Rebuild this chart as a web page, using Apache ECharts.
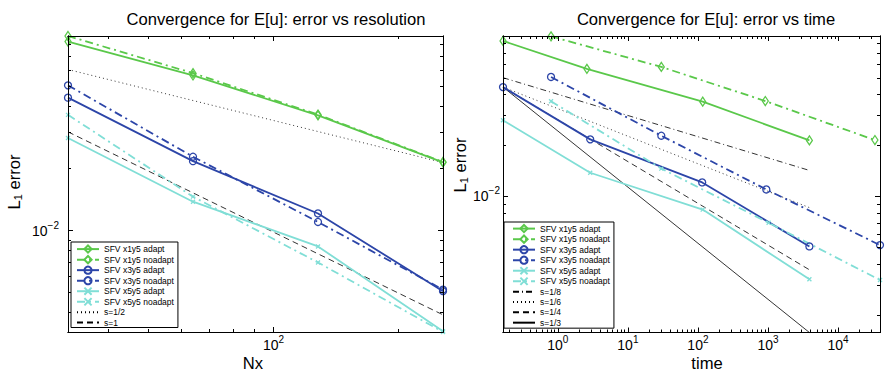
<!DOCTYPE html>
<html><head><meta charset="utf-8">
<script src="https://cdn.jsdelivr.net/npm/echarts@6/dist/echarts.min.js"></script>
<style>html,body{margin:0;padding:0;background:#fff}#c{width:886px;height:373px}</style>
</head><body><div id="c"></div>
<script>
// ---------- data ----------
const nx = [32, 64, 128, 256];
const seriesNames = ['SFV x1y5 adapt', 'SFV x1y5 noadapt', 'SFV x3y5 adapt', 'SFV x3y5 noadapt', 'SFV x5y5 adapt', 'SFV x5y5 noadapt'];

const errX1Adapt   = [0.0825, 0.0565, 0.0362, 0.0214];
const errX1Noadapt = [0.0878, 0.0580, 0.0365, 0.0215];
const errX3Adapt   = [0.0441, 0.0217, 0.0121, 0.00508];
const errX3Noadapt = [0.0506, 0.0228, 0.0110, 0.00517];
const errX5Adapt   = [0.0281, 0.0138, 0.00837, 0.00325];
const errX5Noadapt = [0.0364, 0.0146, 0.0070, 0.00322];

const timeX1Adapt   = [0.165, 2.6, 117, 3900];
const timeX1Noadapt = [0.80, 30, 915, 33600];
const timeX3Adapt   = [0.165, 2.9, 115, 3900];
const timeX3Noadapt = [0.80, 30, 946, 39700];
const timeX5Adapt   = [0.165, 2.9, 117, 3900];
const timeX5Noadapt = [0.80, 30, 1020, 39700];

const refLeftNames = ['s=1/2', 's=1'];
const refLeftNx = [32, 256];
const refHalf = [0.0604, 0.02136];
const refOne  = [0.0301, 0.0039];

const refRightNames = ['s=1/8', 's=1/6', 's=1/4', 's=1/3'];
const refRightT = [0.165, 3900];
const refEighth = [0.0501, 0.01424];
const refSixth  = [0.0441, 0.0086];
const refQuarter = [0.0441, 0.0037];
const refThird  = [0.0441, 0.00158];

const leftXRange = [32, 256];
const leftYRange = [0.00322, 0.0878];
const rightXRange = [0.165, 39700];
const rightYRange = [0.00158, 0.0882];

const leftXMajor = [100];
const leftXMinor = [40, 50, 60, 70, 80, 90, 200];
const leftYMajor = [0.01];
const leftYMinor = [0.004, 0.005, 0.006, 0.007, 0.008, 0.009, 0.02, 0.03, 0.04, 0.05, 0.06, 0.07, 0.08];
const rightXMajor = [1, 10, 100, 1000, 10000];
const rightXMinor = [0.2, 0.3, 0.4, 0.5, 0.6, 0.7, 0.8, 0.9, 2, 3, 4, 5, 6, 7, 8, 9, 20, 30, 40, 50, 60, 70, 80, 90,
  200, 300, 400, 500, 600, 700, 800, 900, 2000, 3000, 4000, 5000, 6000, 7000, 8000, 9000, 20000, 30000];
const rightYMajor = [0.01];
const rightYMinor = [0.002, 0.003, 0.004, 0.005, 0.006, 0.007, 0.008, 0.009, 0.02, 0.03, 0.04, 0.05, 0.06, 0.07, 0.08];

// ---------- styling ----------
const FONT = '"Liberation Sans", Arial, Helvetica, sans-serif';
const GREEN = '#5ac84a', BLUE = '#2c45a8', CYAN = '#80ded6';
const DASHDOT = [8, 4, 2, 4];

function supLabel(v) {
  const e = Math.round(Math.log10(v));
  return '{b|10}{s|' + (e < 0 ? '\u2212' + (-e) : String(e)) + '}';
}
const rich = {
  b: { fontSize: 14, fontFamily: FONT, color: '#000' },
  s: { fontSize: 10, fontFamily: FONT, color: '#000', padding: [0, 0, 11, 0] }
};

function mkAxis(gridIndex, position, range, ticks, len, labels, margin) {
  return {
    type: 'log', logBase: 10, gridIndex: gridIndex, position: position,
    min: range[0], max: range[1],
    axisLine: { show: true, onZero: false, lineStyle: { color: '#000', width: 1 } },
    axisTick: { show: true, inside: true, length: len, customValues: ticks, lineStyle: { color: '#000', width: 1 } },
    axisLabel: labels ? { show: true, customValues: labels, formatter: supLabel, rich: rich, margin: margin,
      hideOverlap: false, showMinLabel: true, showMaxLabel: true } : { show: false },
    splitLine: { show: false }, minorTick: { show: false }, minorSplitLine: { show: false },
    silent: true, z: 10
  };
}

function pairs(xs, ys) { return xs.map((x, i) => [x, ys[i]]); }

function sfv(name, xs, ys, ai, color, symbol, size, dashdot) {
  return {
    type: 'line', name: name, xAxisIndex: ai, yAxisIndex: ai, data: pairs(xs, ys),
    symbol: symbol, symbolSize: size, showSymbol: true, clip: false,
    lineStyle: { color: color, width: 1.8, type: dashdot ? DASHDOT : 'solid' },
    itemStyle: { color: 'rgba(255,255,255,0)', borderColor: color, borderWidth: 1.3 },
    emphasis: { disabled: true }, z: 3
  };
}
function ref(name, xs, ys, ai, type) {
  return {
    type: 'line', name: name, xAxisIndex: ai, yAxisIndex: ai, data: pairs(xs, ys),
    symbol: 'none', showSymbol: false, clip: false,
    lineStyle: { color: '#000', width: 0.8, type: type },
    itemStyle: { color: 'rgba(0,0,0,0)', borderWidth: 0 },
    emphasis: { disabled: true }, z: 2
  };
}
const DIAMOND = 'diamond', CIRCLE = 'circle', XMARK = 'path://M0,0L10,10M0,10L10,0';

const series = [
  sfv(seriesNames[0], nx, errX1Adapt, 0, GREEN, DIAMOND, [6, 9], false),
  sfv(seriesNames[1], nx, errX1Noadapt, 0, GREEN, DIAMOND, [6, 9], true),
  sfv(seriesNames[2], nx, errX3Adapt, 0, BLUE, CIRCLE, 7, false),
  sfv(seriesNames[3], nx, errX3Noadapt, 0, BLUE, CIRCLE, 7, true),
  sfv(seriesNames[4], nx, errX5Adapt, 0, CYAN, XMARK, 4, false),
  sfv(seriesNames[5], nx, errX5Noadapt, 0, CYAN, XMARK, 4, true),
  ref(refLeftNames[0], refLeftNx, refHalf, 0, [1, 3]),
  ref(refLeftNames[1], refLeftNx, refOne, 0, [6, 4]),

  sfv(seriesNames[0], timeX1Adapt, errX1Adapt, 4, GREEN, DIAMOND, [6, 9], false),
  sfv(seriesNames[1], timeX1Noadapt, errX1Noadapt, 4, GREEN, DIAMOND, [6, 9], true),
  sfv(seriesNames[2], timeX3Adapt, errX3Adapt, 4, BLUE, CIRCLE, 7, false),
  sfv(seriesNames[3], timeX3Noadapt, errX3Noadapt, 4, BLUE, CIRCLE, 7, true),
  sfv(seriesNames[4], timeX5Adapt, errX5Adapt, 4, CYAN, XMARK, 4, false),
  sfv(seriesNames[5], timeX5Noadapt, errX5Noadapt, 4, CYAN, XMARK, 4, true),
  ref(refRightNames[0], refRightT, refEighth, 4, [6, 3, 1, 3]),
  ref(refRightNames[1], refRightT, refSixth, 4, [1, 3]),
  ref(refRightNames[2], refRightT, refQuarter, 4, [6, 4]),
  ref(refRightNames[3], refRightT, refThird, 4, 'solid')
];

const legendBase = {
  orient: 'vertical', selectedMode: false, backgroundColor: '#fff',
  borderColor: '#000', borderWidth: 1, itemWidth: 22, itemHeight: 9, itemGap: 1.33,
  textStyle: { fontSize: 8.5, fontFamily: FONT, color: '#000', lineHeight: 9 }, z: 20
};

const option = {
  animation: false,
  backgroundColor: '#fff',
  grid: [
    { left: 68, top: 36, width: 375, height: 296, containLabel: false, outerBoundsMode: 'none' },
    { left: 503, top: 36, width: 377, height: 296.5, containLabel: false, outerBoundsMode: 'none' }
  ],
  xAxis: [
    mkAxis(0, 'bottom', leftXRange, leftXMajor, 5, leftXMajor, 2),
    mkAxis(0, 'bottom', leftXRange, leftXMinor, 3, null),
    mkAxis(0, 'top', leftXRange, leftXMajor, 5, null),
    mkAxis(0, 'top', leftXRange, leftXMinor, 3, null),
    mkAxis(1, 'bottom', rightXRange, rightXMajor, 5, rightXMajor, 2),
    mkAxis(1, 'bottom', rightXRange, rightXMinor, 3, null),
    mkAxis(1, 'top', rightXRange, rightXMajor, 5, null),
    mkAxis(1, 'top', rightXRange, rightXMinor, 3, null)
  ],
  yAxis: [
    mkAxis(0, 'left', leftYRange, leftYMajor, 5, leftYMajor, 9),
    mkAxis(0, 'left', leftYRange, leftYMinor, 3, null),
    mkAxis(0, 'right', leftYRange, leftYMajor, 5, null),
    mkAxis(0, 'right', leftYRange, leftYMinor, 3, null),
    mkAxis(1, 'left', rightYRange, rightYMajor, 5, rightYMajor, 3),
    mkAxis(1, 'left', rightYRange, rightYMinor, 3, null),
    mkAxis(1, 'right', rightYRange, rightYMajor, 5, null),
    mkAxis(1, 'right', rightYRange, rightYMinor, 3, null)
  ],
  legend: [
    Object.assign({}, legendBase, { data: seriesNames.concat(refLeftNames), left: 71, top: 242, padding: [2.5, 4, 0.5, 5] }),
    Object.assign({}, legendBase, { data: seriesNames.concat(refRightNames), left: 504, top: 222, padding: [2, 4, 1, 8] })
  ],
  graphic: [
    { type: 'text', x: 276, y: 19, style: { text: 'Convergence for E[u]: error vs resolution', font: '16.6px ' + FONT, fill: '#000', align: 'center', verticalAlign: 'middle' } },
    { type: 'text', x: 706, y: 19, style: { text: 'Convergence for E[u]: error vs time', font: '16.6px ' + FONT, fill: '#000', align: 'center', verticalAlign: 'middle' } },
    { type: 'text', x: 253, y: 363, style: { text: 'Nx', font: '16.6px ' + FONT, fill: '#000', align: 'center', verticalAlign: 'middle' } },
    { type: 'text', x: 707, y: 363, style: { text: 'time', font: '16.6px ' + FONT, fill: '#000', align: 'center', verticalAlign: 'middle' } },
    { type: 'text', x: 14, y: 182, rotation: Math.PI / 2,
      style: { text: '{l|L}{d|1}{l| error}', align: 'center', verticalAlign: 'middle',
        rich: { l: { font: '16.6px ' + FONT, fill: '#000' }, d: { font: '11px ' + FONT, fill: '#000', padding: [8, 0, 0, 0] } } } },
    { type: 'text', x: 460, y: 165, rotation: Math.PI / 2,
      style: { text: '{l|L}{d|1}{l| error}', align: 'center', verticalAlign: 'middle',
        rich: { l: { font: '16.6px ' + FONT, fill: '#000' }, d: { font: '11px ' + FONT, fill: '#000', padding: [8, 0, 0, 0] } } } }
  ],
  series: series
};

const chart = echarts.init(document.getElementById('c'), null, { renderer: 'svg', width: 886, height: 373 });
chart.setOption(option);
</script>
</body></html>
